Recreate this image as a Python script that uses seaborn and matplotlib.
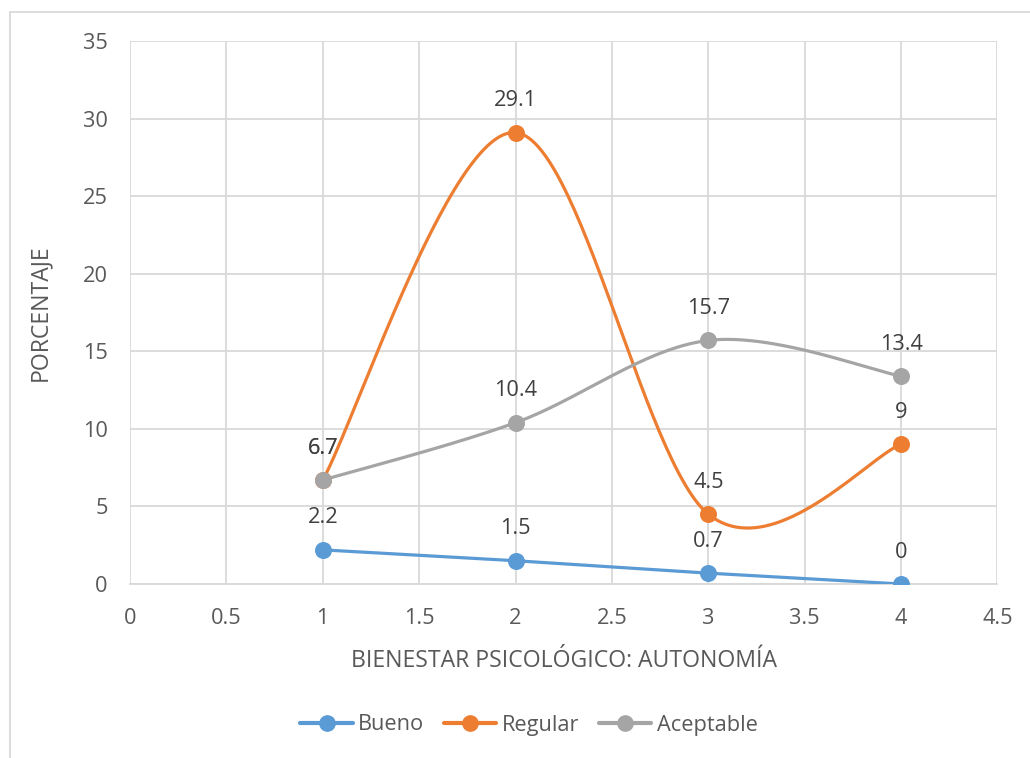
import numpy as np
import pandas as pd
import matplotlib
matplotlib.use("Agg")
import matplotlib.pyplot as plt
from matplotlib.lines import Line2D
from matplotlib.patches import Rectangle
import seaborn as sns

# Values per category level
niveles = [1, 2, 3, 4]
bueno = [2.2, 1.5, 0.7, 0]
regular = [6.7, 29.1, 4.5, 9]
aceptable = [6.7, 10.4, 15.7, 13.4]

series_names = ["Bueno", "Regular", "Aceptable"]
series_values = [bueno, regular, aceptable]
colors = ["#5B9BD5", "#ED7D31", "#A5A5A5"]

x_ticks = [0, 0.5, 1, 1.5, 2, 2.5, 3, 3.5, 4, 4.5]
y_ticks = [0, 5, 10, 15, 20, 25, 30, 35]

TEXT = "#595959"
GRID = "#D9D9D9"
FS = 15.7

sns.set_theme(style="whitegrid")
plt.rcParams["font.family"] = ["Open Sans", "DejaVu Sans"]


def smooth_curve(xs, ys, steps=60):
    """Cubic Bezier segments with Catmull-Rom control points (smoothed line)."""
    pts = np.column_stack([xs, ys]).astype(float)
    ext = np.vstack([pts[0], pts, pts[-1]])
    out = []
    t = np.linspace(0, 1, steps)[:, None]
    for i in range(1, len(ext) - 2):
        p0, p1, p2, p3 = ext[i - 1], ext[i], ext[i + 1], ext[i + 2]
        c1 = p1 + (p2 - p0) / 6.0
        c2 = p2 - (p3 - p1) / 6.0
        seg = ((1 - t) ** 3) * p1 + 3 * ((1 - t) ** 2) * t * c1 + 3 * (1 - t) * t ** 2 * c2 + t ** 3 * p2
        out.append(seg if i == 1 else seg[1:])
    out = np.vstack(out)
    return out[:, 0], out[:, 1]


fig = plt.figure(figsize=(10.30, 7.58), dpi=100)
ax = fig.add_axes([130 / 1030, 1 - 584 / 758, (997.5 - 130) / 1030, (584 - 41) / 758])

# outer chart frame
fig.patches.append(Rectangle((10 / 1030, -0.05), 1.2, 1 - 12 / 758 + 0.05,
                             transform=fig.transFigure, fill=False,
                             edgecolor=GRID, linewidth=1.3, zorder=0))

for name, vals, col in zip(series_names, series_values, colors):
    sx, sy = smooth_curve(niveles, vals)
    if name == "Bueno":
        sx, sy = np.array(niveles, float), np.array(vals, float)
    sns.lineplot(x=sx, y=sy, ax=ax, color=col, linewidth=2.3, sort=False,
                 estimator=None, legend=False, zorder=3)
    sns.scatterplot(x=niveles, y=vals, ax=ax, color=col, s=150,
                    edgecolor=col, linewidth=0, legend=False, zorder=4)

# value labels above each point
for name, vals in zip(series_names, series_values):
    for xv, yv in zip(niveles, vals):
        ax.annotate(f"{yv:g}", (xv, yv), xytext=(0, 23), textcoords="offset points",
                    ha="center", va="center", fontsize=FS, color="#404040", zorder=5)

ax.set_xlim(0, 4.5)
ax.set_ylim(0, 35)
ax.set_xticks(x_ticks)
ax.set_xticklabels([f"{v:g}" for v in x_ticks])
ax.set_yticks(y_ticks)
ax.grid(True, color=GRID, linewidth=1.3)
for side in ["top", "right"]:
    ax.spines[side].set_visible(False)
ax.spines["left"].set_visible(False)
ax.spines["bottom"].set_color(GRID)
ax.spines["bottom"].set_linewidth(1.3)
ax.tick_params(axis="both", colors=TEXT, labelsize=FS, length=0)
ax.tick_params(axis="x", pad=17)
ax.tick_params(axis="y", pad=16)

ax.set_xlabel("BIENESTAR PSICOLÓGICO: AUTONOMÍA", fontsize=16.6, color=TEXT, labelpad=15)
ax.set_ylabel("PORCENTAJE", fontsize=16.6, color=TEXT, labelpad=22)

handles = [Line2D([0], [0], color=c, linewidth=3, marker="o", markersize=11)
           for c in colors]
leg = fig.legend(handles, series_names, loc="center", bbox_to_anchor=(529 / 1030, 1 - 725 / 758),
                 ncol=3, frameon=False, fontsize=FS, handlelength=2.4,
                 columnspacing=0.9, handletextpad=0.25)
for t in leg.get_texts():
    t.set_color(TEXT)

fig.savefig("out.png", dpi=100, facecolor="white")
